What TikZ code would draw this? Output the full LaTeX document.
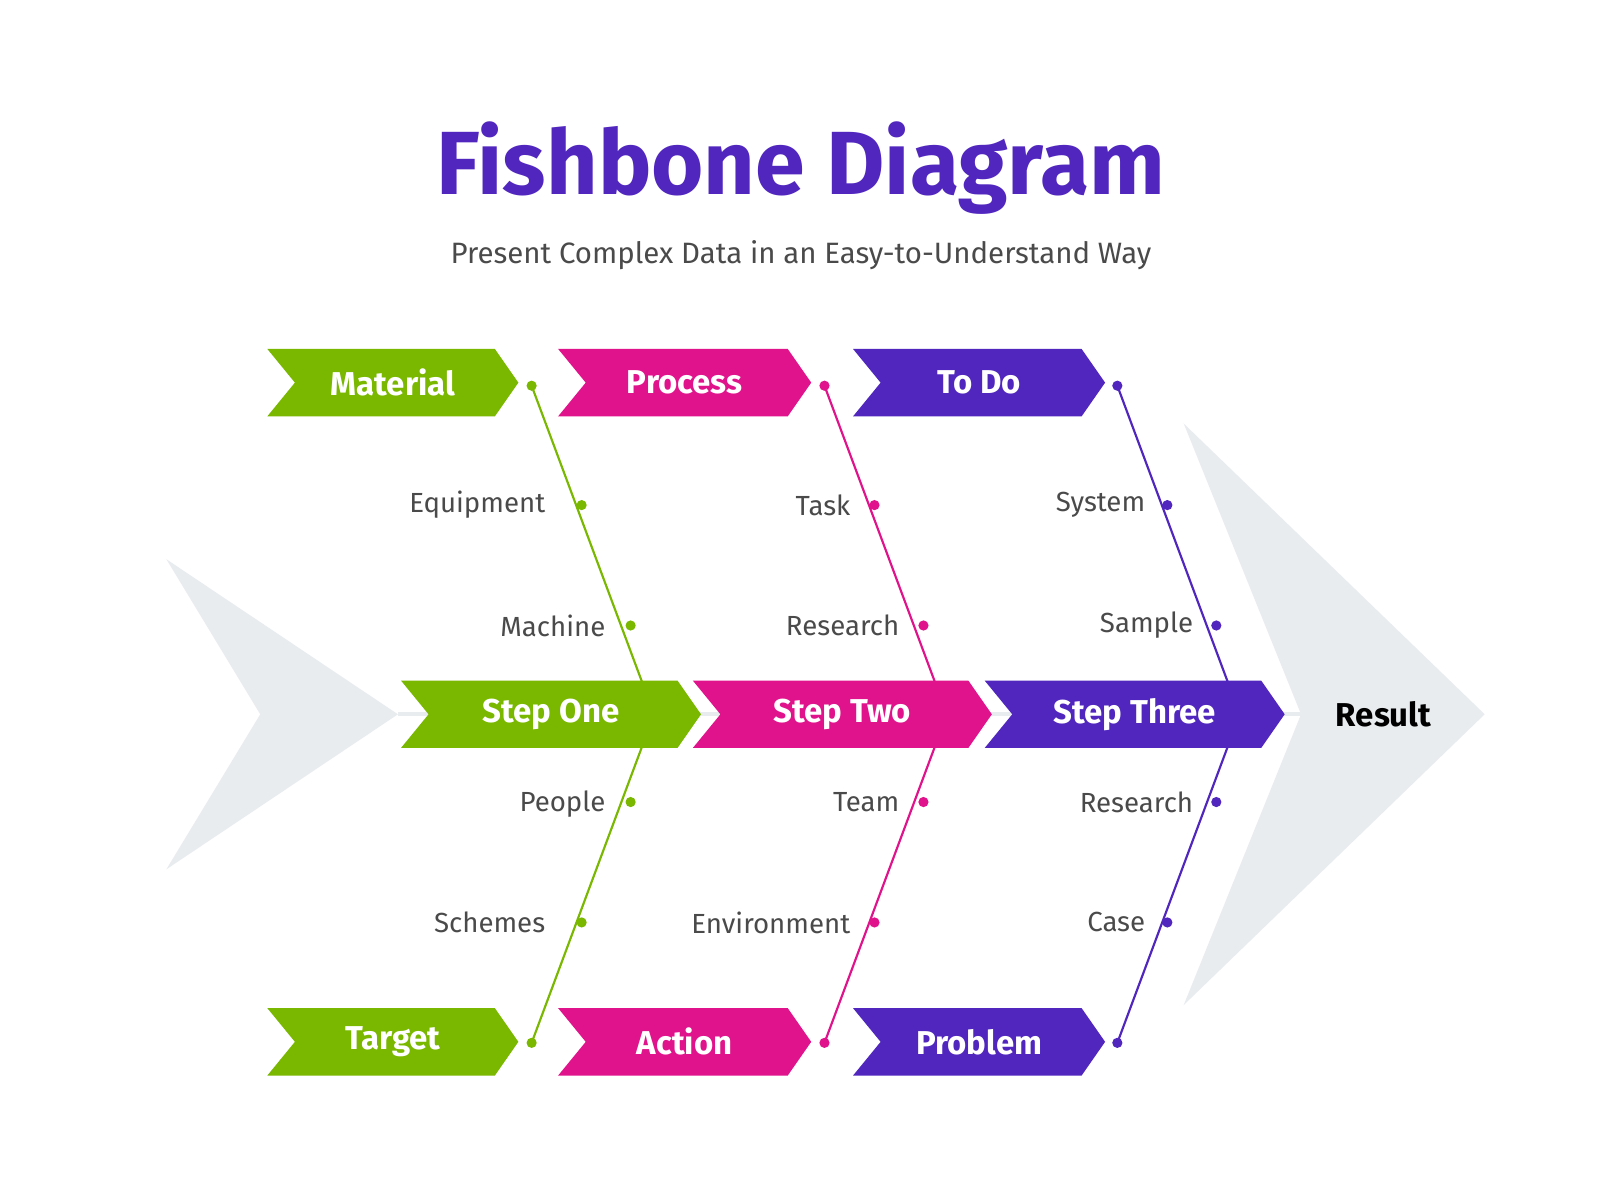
\documentclass[tikz,border=0pt]{standalone}
\usepackage{fontspec}
\setmainfont{Fira Sans}
\definecolor{cgr}{HTML}{7AB800}
\definecolor{cmag}{HTML}{E0138C}
\definecolor{cpur}{HTML}{5026BF}
\definecolor{bgr}{HTML}{E9ECEF}
\definecolor{tx}{HTML}{4A4A4A}
\newcommand\chevbox[6]{% name, xleft, ycenter, width, color, text
  \fill[#5] (#2,#3-33) -- (#2+#4-23,#3-33) -- (#2+#4,#3) -- (#2+#4-23,#3+33) -- (#2,#3+33) -- (#2+27,#3) -- cycle;
  \node[boxtxt] (#1) at (#2+#4/2,#3) {#6};}
\begin{document}
\begin{tikzpicture}[x=0.01cm,y=-0.01cm,
  boxtxt/.style={text=white,font=\fontsize{9.2pt}{10pt}\selectfont\bfseries,inner sep=0pt},
  lbl/.style={text=tx,font=\fontsize{7.7pt}{9pt}\selectfont,anchor=east,inner sep=0pt},
  dot/.style={circle,fill=#1,minimum size=0.1cm,inner sep=0pt},
  bone/.style={draw=#1,line width=0.6pt}]
\useasboundingbox (0,0) rectangle (1568,1176);
\fill[white] (0,0) rectangle (1568,1176);
\node[text=cpur,font=\fontsize{25pt}{28pt}\selectfont\bfseries] (title) at (785,165) {Fishbone Diagram};
\node[text=tx,font=\fontsize{8.2pt}{10pt}\selectfont] (sub) at (785,250) {Present Complex Data in an Easy-to-Understand Way};
% background arrows
\fill[bgr] (163,548) -- (390,700) -- (163,852) -- (255,700) -- cycle;
\fill[bgr] (1160,415) -- (1455,700) -- (1160,985) -- (1275,700) -- cycle;
\draw[bgr,line width=1.2pt] (390,700) -- (1275,700);
% dots and bones
\foreach \c/\x/\n in {cgr/521/g,cmag/808/m,cpur/1095/p}{
  \node[dot=\c] (\n1) at (\x,378) {};
  \node[dot=\c] (\n2) at (\x+49,495) {};
  \node[dot=\c] (\n3) at (\x+97,613) {};
  \coordinate (\n0) at (\x+120,700);
  \node[dot=\c] (\n4) at (\x+97,786) {};
  \node[dot=\c] (\n5) at (\x+49,904) {};
  \node[dot=\c] (\n6) at (\x,1022) {};
  \draw[bone=\c] (\n1.center) -- (\n0) -- (\n6.center);
}
% labels
\node[lbl] (l1) at (535,495) {Equipment};
\node[lbl] (l2) at (594,613) {Machine};
\node[lbl] (l3) at (594,788) {People};
\node[lbl] (l4) at (535,904) {Schemes};
\node[lbl] (l5) at (834,495) {Task};
\node[lbl] (l6) at (882,613) {Research};
\node[lbl] (l7) at (882,786) {Team};
\node[lbl] (l8) at (834,904) {Environment};
\node[lbl] (l9) at (1123,495) {System};
\node[lbl] (l10) at (1170,613) {Sample};
\node[lbl] (l11) at (1170,786) {Research};
\node[lbl] (l12) at (1123,904) {Case};
% boxes
\chevbox{b1}{262}{375}{246}{cgr}{Material}
\chevbox{b2}{547}{375}{248}{cmag}{Process}
\chevbox{b3}{836}{375}{247}{cpur}{To Do}
\chevbox{b4}{262}{1021}{246}{cgr}{Target}
\chevbox{b5}{547}{1021}{248}{cmag}{Action}
\chevbox{b6}{836}{1021}{247}{cpur}{Problem}
\chevbox{s1}{393}{700}{294}{cgr}{Step One}
\chevbox{s2}{679}{700}{293}{cmag}{Step Two}
\chevbox{s3}{965}{700}{294}{cpur}{Step Three}
\node[font=\fontsize{9.2pt}{10pt}\selectfont\bfseries,text=black] (res) at (1356,700) {Result};
\end{tikzpicture}
\end{document}
